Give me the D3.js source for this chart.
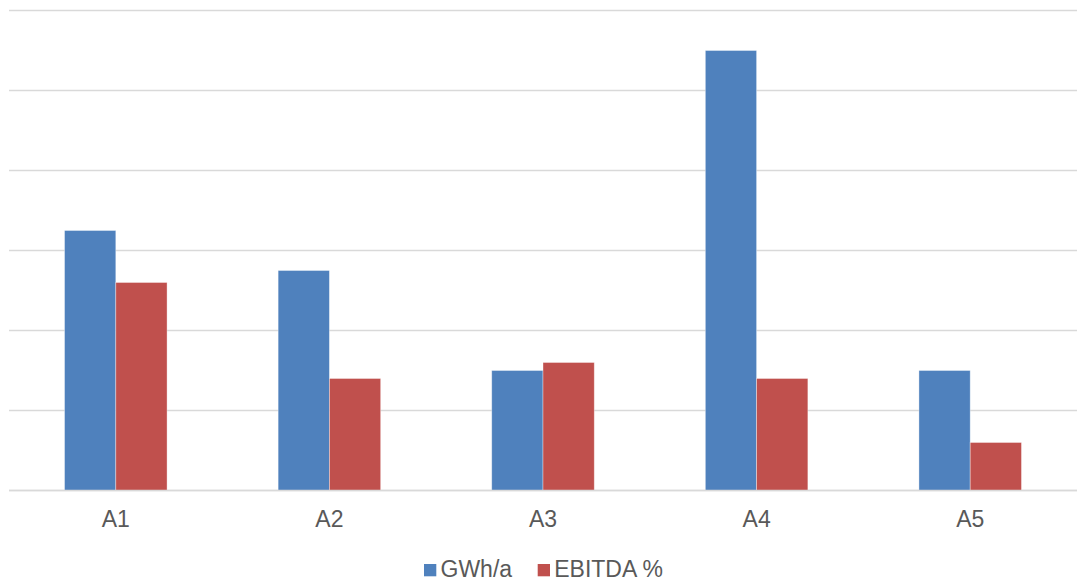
<!DOCTYPE html>
<html>
<head>
<meta charset="utf-8">
<script src="https://cdn.jsdelivr.net/npm/d3@7"></script>
<style>
  html, body { margin: 0; padding: 0; background: #fff; }
  svg { display: block; font-family: "Liberation Sans", Arial, sans-serif; }
</style>
</head>
<body>
<svg id="chart" width="1080" height="582"></svg>
<script>
// Categories and series
const categories = ["A1", "A2", "A3", "A4", "A5"];
const seriesNames = ["GWh/a", "EBITDA %"];
const gwh = [3.25, 2.75, 1.5, 5.5, 1.5];
const ebitda = [2.6, 1.4, 1.6, 1.4, 0.6];
const gridTicks = [0, 1, 2, 3, 4, 5, 6];
const colors = ["#4f81bd", "#c0504d"];

const svg = d3.select("#chart");
const plot = { left: 9, right: 1077, top: 10.5, bottom: 490.5 };

const x = d3.scaleBand()
  .domain(categories)
  .range([plot.left, plot.right])
  .paddingInner(0.52)
  .paddingOuter(0.26);

const xs = d3.scaleBand()
  .domain(seriesNames)
  .range([0, x.bandwidth()]);

const y = d3.scaleLinear()
  .domain([0, 6])
  .range([plot.bottom, plot.top]);

// horizontal gridlines
svg.append("g")
  .selectAll("line")
  .data(gridTicks)
  .join("line")
  .attr("x1", plot.left)
  .attr("x2", plot.right)
  .attr("y1", d => y(d))
  .attr("y2", d => y(d))
  .attr("stroke", "#d9d9d9")
  .attr("stroke-width", 1.6);

const rows = categories.map((c, i) => ({ cat: c, values: [gwh[i], ebitda[i]] }));

const groups = svg.append("g")
  .selectAll("g")
  .data(rows)
  .join("g")
  .attr("transform", d => `translate(${x(d.cat)},0)`);

groups.selectAll("rect")
  .data(d => d.values.map((v, j) => ({ name: seriesNames[j], v, j })))
  .join("rect")
  .attr("x", d => xs(d.name))
  .attr("width", xs.bandwidth())
  .attr("y", d => y(d.v))
  .attr("height", d => y(0) - y(d.v))
  .attr("fill", d => colors[d.j])
  .attr("stroke", "rgba(255,255,255,0.45)")
  .attr("stroke-width", 0.8);

// baseline over the bars
svg.append("line")
  .attr("x1", plot.left).attr("x2", plot.right)
  .attr("y1", y(0)).attr("y2", y(0))
  .attr("stroke", "#d9d9d9").attr("stroke-width", 1.6);

// category labels
const xAxis = d3.axisBottom(x).tickSize(0).tickPadding(0);
const ax = svg.append("g")
  .attr("transform", `translate(0,${plot.bottom})`)
  .call(xAxis);
ax.select(".domain").remove();
ax.selectAll("text")
  .attr("y", 36.2)
  .attr("dy", 0)
  .attr("fill", "#595959")
  .style("font-size", "23px")
  .style("font-family", "'Liberation Sans', Arial, sans-serif");

// legend
const legend = svg.append("g");
const legendItems = [
  { name: seriesNames[0], color: colors[0], x: 424 },
  { name: seriesNames[1], color: colors[1], x: 537.7 }
];
const li = legend.selectAll("g")
  .data(legendItems)
  .join("g")
  .attr("transform", d => `translate(${d.x},0)`);
li.append("rect")
  .attr("x", 0).attr("y", 564)
  .attr("width", 12.3).attr("height", 12.3)
  .attr("fill", d => d.color);
li.append("text")
  .attr("x", 16.5)
  .attr("y", 576.5)
  .attr("fill", "#595959")
  .style("font-size", "23px")
  .text(d => d.name);
</script>
</body>
</html>
